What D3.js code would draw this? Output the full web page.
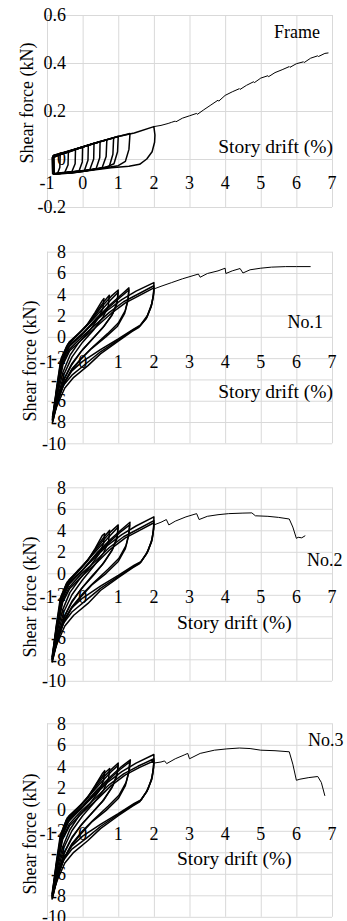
<!DOCTYPE html>
<html>
<head>
<meta charset="utf-8">
<script src="https://cdn.jsdelivr.net/npm/d3@7"></script>
<style>
  body { margin: 0; background: #fff; }
  text { font-family: "Liberation Serif", "Times New Roman", serif; font-size: 18px; fill: #000; }
  text.xtitle { font-size: 19.5px; }
  .grid line { stroke: #d9d9d9; stroke-width: 1; }
  .grid path { display: none; }
</style>
</head>
<body>
<svg id="chart" width="347" height="921"></svg>
<script>
// tick values
var xTicks = [-1, 0, 1, 2, 3, 4, 5, 6, 7];
var frameYTicks = [-0.2, 0, 0.2, 0.4, 0.6];
var specYTicks = [-10, -8, -6, -4, -2, 0, 2, 4, 6, 8];
var panelNames = ["Frame", "No.1", "No.2", "No.3"];
var xTitle = "Story drift (%)";
var yTitle = "Shear force (kN)";

// Frame: drift (%), shear (kN)
var frameLoops = [
  [[-0.84,-0.062],[-0.85,0.004],[-0.63,0.018],[-0.64,-0.035],[-0.7,-0.058],[-0.84,-0.062]],
  [[-0.84,-0.062],[-0.85,0.006],[-0.6,0.02],[-0.4,0.03],[-0.41,-0.025],[-0.5,-0.055],[-0.84,-0.062]],
  [[-0.83,-0.063],[-0.84,0.008],[-0.5,0.025],[-0.2,0.04],[-0.21,-0.02],[-0.3,-0.052],[-0.83,-0.063]],
  [[-0.83,-0.062],[-0.84,0.01],[-0.45,0.028],[0.0,0.05],[-0.01,-0.012],[-0.1,-0.05],[-0.83,-0.062]],
  [[-0.82,-0.064],[-0.83,0.01],[-0.4,0.03],[0.0,0.05],[0.16,0.057],[0.15,-0.005],[0.05,-0.048],[-0.82,-0.064]],
  [[-0.82,-0.063],[-0.83,0.012],[-0.4,0.031],[0.05,0.052],[0.32,0.066],[0.31,0.0],[0.2,-0.045],[-0.3,-0.058],[-0.82,-0.063]],
  [[-0.82,-0.062],[-0.83,0.012],[-0.35,0.034],[0.1,0.055],[0.49,0.073],[0.48,0.005],[0.38,-0.04],[0.0,-0.052],[-0.82,-0.062]],
  [[-0.81,-0.063],[-0.82,0.013],[-0.3,0.036],[0.2,0.06],[0.68,0.08],[0.66,0.01],[0.55,-0.035],[0.1,-0.05],[-0.81,-0.063]],
  [[-0.81,-0.062],[-0.82,0.014],[-0.3,0.037],[0.3,0.064],[0.87,0.088],[0.85,0.02],[0.75,-0.03],[0.3,-0.045],[-0.81,-0.062]],
  [[-0.8,-0.063],[-0.82,0.015],[-0.2,0.04],[0.4,0.068],[1.0,0.095],[0.98,0.03],[0.88,-0.02],[0.6,-0.038],[0.0,-0.05],[-0.8,-0.063]],
  [[-0.8,-0.062],[-0.81,0.016],[-0.2,0.042],[0.5,0.073],[1.0,0.094],[1.33,0.106],[1.3,0.04],[1.2,-0.01],[1.0,-0.028],[0.5,-0.04],[-0.8,-0.062]],
  [[-0.82,-0.063],[-0.82,0.01],[-0.4,0.028],[0.0,0.05],[0.5,0.073],[1.0,0.094],[1.45,0.108],[2.0,0.135],[2.03,0.1],[2.02,0.07],[1.95,0.03],[1.8,0.0],[1.6,-0.022],[1.3,-0.03],[0.8,-0.036],[0.2,-0.048],[-0.3,-0.058],[-0.82,-0.063]]
];
var frameEnvelope = [[2.0,0.135],[2.2,0.14],[2.4,0.148],[2.5,0.153],[2.6,0.158],[2.62,0.155],[2.8,0.17],[3.0,0.18],[3.2,0.19],[3.22,0.186],[3.4,0.205],[3.6,0.225],[3.8,0.245],[3.82,0.241],[4.0,0.265],[4.2,0.28],[4.4,0.293],[4.42,0.29],[4.6,0.307],[4.8,0.322],[4.82,0.318],[5.0,0.337],[5.2,0.347],[5.22,0.343],[5.4,0.36],[5.6,0.372],[5.8,0.385],[5.82,0.382],[6.0,0.397],[6.2,0.405],[6.22,0.402],[6.4,0.42],[6.6,0.43],[6.62,0.427],[6.8,0.44],[6.9,0.442]];

// No.1
var no1Loops = [
  [[-0.85,-7.9],[-0.74,-5.0],[-0.62,-2.3],[-0.45,-0.9],[-0.2,0.0],[0.1,1.0],[0.35,2.3],[0.55,3.4],[0.6,3.6],[0.57,2.7],[0.45,1.8],[0.2,0.6],[-0.1,-0.5],[-0.35,-1.7],[-0.55,-3.3],[-0.7,-5.3],[-0.85,-7.9]],
  [[-0.84,-7.7],[-0.72,-4.7],[-0.6,-2.0],[-0.42,-0.7],[-0.15,0.2],[0.15,1.2],[0.42,2.5],[0.62,3.4],[0.75,3.9],[0.72,2.9],[0.58,1.9],[0.32,0.7],[0.0,-0.5],[-0.3,-1.9],[-0.52,-3.5],[-0.68,-5.4],[-0.84,-7.7]],
  [[-0.83,-7.8],[-0.7,-4.5],[-0.56,-1.9],[-0.38,-0.5],[-0.05,0.5],[0.3,1.8],[0.55,2.9],[0.8,3.8],[1.0,4.4],[0.97,3.3],[0.85,2.2],[0.6,1.0],[0.3,-0.1],[0.0,-1.2],[-0.3,-2.5],[-0.5,-3.8],[-0.68,-5.6],[-0.83,-7.8]],
  [[-0.85,-7.6],[-0.71,-4.6],[-0.57,-2.1],[-0.4,-0.7],[-0.1,0.3],[0.25,1.5],[0.55,2.6],[0.8,3.5],[1.0,4.2],[0.96,3.1],[0.82,2.0],[0.55,0.8],[0.25,-0.3],[-0.05,-1.4],[-0.32,-2.7],[-0.52,-4.0],[-0.7,-5.8],[-0.85,-7.6]],
  [[-0.84,-8.0],[-0.7,-4.6],[-0.55,-2.1],[-0.35,-0.7],[0.0,0.3],[0.4,1.8],[0.8,3.1],[1.1,4.0],[1.3,4.6],[1.28,3.6],[1.2,2.5],[1.0,1.3],[0.7,0.3],[0.3,-0.9],[0.0,-1.9],[-0.3,-3.0],[-0.5,-4.2],[-0.68,-5.8],[-0.84,-8.0]],
  [[-0.85,-7.8],[-0.71,-4.8],[-0.57,-2.3],[-0.38,-0.9],[-0.05,0.1],[0.35,1.5],[0.75,2.8],[1.05,3.7],[1.3,4.4],[1.27,3.4],[1.18,2.2],[0.98,1.0],[0.65,0.0],[0.25,-1.1],[-0.05,-2.1],[-0.32,-3.2],[-0.52,-4.4],[-0.7,-6.0],[-0.85,-7.8]],
  [[-0.85,-8.1],[-0.72,-5.0],[-0.58,-2.4],[-0.4,-1.0],[-0.1,0.0],[0.3,1.3],[0.7,2.5],[1.1,3.5],[1.5,4.3],[2.0,5.1],[2.0,4.3],[1.95,3.2],[1.82,2.0],[1.62,1.1],[1.42,0.7],[1.0,-0.2],[0.5,-1.2],[0.0,-2.3],[-0.3,-3.2],[-0.5,-4.2],[-0.7,-5.8],[-0.85,-8.1]],
  [[-0.84,-7.8],[-0.7,-4.9],[-0.56,-2.5],[-0.38,-1.2],[-0.05,-0.1],[0.35,1.1],[0.75,2.3],[1.15,3.3],[1.55,4.0],[2.0,4.8],[1.99,4.0],[1.93,2.9],[1.8,1.8],[1.6,1.0],[1.4,0.6],[1.0,-0.3],[0.5,-1.4],[0.1,-2.5],[-0.3,-3.6],[-0.55,-4.6],[-0.72,-6.2],[-0.84,-7.8]],
  [[-0.83,-7.5],[-0.69,-4.8],[-0.55,-2.6],[-0.36,-1.3],[0.0,-0.2],[0.4,1.0],[0.8,2.2],[1.2,3.2],[1.6,3.9],[2.0,4.6],[1.99,3.9],[1.92,2.8],[1.78,1.7],[1.58,0.9],[1.38,0.5],[1.0,-0.4],[0.5,-1.6],[0.15,-2.7],[-0.25,-3.8],[-0.5,-4.8],[-0.7,-6.3],[-0.83,-7.5]]
];
var no1Envelope = [[2.0,4.5],[2.2,4.75],[2.5,5.1],[2.8,5.45],[3.1,5.75],[3.25,5.9],[3.3,5.6],[3.5,5.95],[3.8,6.2],[4.0,6.45],[4.02,5.95],[4.2,6.2],[4.42,6.42],[4.5,6.0],[4.7,6.3],[5.0,6.45],[5.3,6.55],[5.7,6.6],[6.0,6.6],[6.4,6.6]];

// No.2
var no2Loops = [
  [[-0.86,-8.1],[-0.75,-5.1],[-0.63,-2.4],[-0.46,-1.0],[-0.2,-0.1],[0.1,1.0],[0.35,2.3],[0.55,3.5],[0.62,3.7],[0.59,2.8],[0.46,1.8],[0.2,0.6],[-0.1,-0.6],[-0.36,-1.8],[-0.56,-3.4],[-0.71,-5.4],[-0.86,-8.1]],
  [[-0.85,-7.9],[-0.73,-4.8],[-0.6,-2.1],[-0.43,-0.8],[-0.15,0.2],[0.15,1.2],[0.42,2.6],[0.63,3.5],[0.76,4.0],[0.73,3.0],[0.59,1.9],[0.32,0.7],[0.0,-0.6],[-0.3,-2.0],[-0.53,-3.6],[-0.69,-5.5],[-0.85,-7.9]],
  [[-0.84,-8.0],[-0.71,-4.6],[-0.57,-2.0],[-0.38,-0.6],[-0.05,0.5],[0.3,1.9],[0.56,3.0],[0.8,3.9],[1.0,4.5],[0.97,3.4],[0.85,2.3],[0.6,1.0],[0.3,-0.2],[0.0,-1.3],[-0.3,-2.6],[-0.5,-3.9],[-0.68,-5.7],[-0.84,-8.0]],
  [[-0.86,-7.8],[-0.72,-4.7],[-0.58,-2.2],[-0.4,-0.8],[-0.1,0.3],[0.25,1.6],[0.55,2.7],[0.8,3.6],[1.0,4.3],[0.96,3.2],[0.82,2.1],[0.55,0.8],[0.25,-0.3],[-0.05,-1.5],[-0.32,-2.8],[-0.52,-4.1],[-0.7,-5.9],[-0.86,-7.8]],
  [[-0.85,-8.2],[-0.71,-4.7],[-0.56,-2.2],[-0.36,-0.8],[0.0,0.3],[0.4,1.9],[0.8,3.2],[1.1,4.1],[1.33,4.75],[1.3,3.7],[1.22,2.6],[1.02,1.4],[0.72,0.4],[0.3,-0.9],[0.0,-1.9],[-0.3,-3.1],[-0.5,-4.3],[-0.68,-5.9],[-0.85,-8.2]],
  [[-0.86,-8.0],[-0.72,-4.9],[-0.58,-2.4],[-0.38,-1.0],[-0.05,0.1],[0.35,1.6],[0.75,2.9],[1.05,3.8],[1.32,4.5],[1.29,3.5],[1.2,2.3],[1.0,1.1],[0.66,0.0],[0.25,-1.1],[-0.05,-2.2],[-0.32,-3.3],[-0.52,-4.5],[-0.7,-6.1],[-0.86,-8.0]],
  [[-0.86,-8.3],[-0.73,-5.1],[-0.59,-2.5],[-0.41,-1.1],[-0.1,0.0],[0.3,1.3],[0.7,2.6],[1.1,3.6],[1.5,4.4],[2.0,5.25],[2.0,4.4],[1.96,3.3],[1.84,2.1],[1.65,1.1],[1.45,0.75],[1.0,-0.2],[0.5,-1.2],[0.0,-2.3],[-0.3,-3.2],[-0.5,-4.2],[-0.7,-5.9],[-0.86,-8.3]],
  [[-0.85,-8.0],[-0.71,-5.0],[-0.57,-2.6],[-0.38,-1.3],[-0.05,-0.1],[0.35,1.1],[0.75,2.4],[1.15,3.4],[1.55,4.1],[2.0,4.9],[1.99,4.1],[1.94,3.0],[1.81,1.9],[1.62,1.0],[1.42,0.6],[1.0,-0.3],[0.5,-1.4],[0.1,-2.5],[-0.3,-3.6],[-0.55,-4.7],[-0.72,-6.3],[-0.85,-8.0]],
  [[-0.84,-7.7],[-0.7,-4.9],[-0.56,-2.7],[-0.36,-1.4],[0.0,-0.2],[0.4,1.0],[0.8,2.3],[1.2,3.3],[1.6,4.0],[2.0,4.7],[1.99,4.0],[1.93,2.9],[1.79,1.8],[1.6,0.9],[1.4,0.5],[1.0,-0.4],[0.5,-1.6],[0.15,-2.8],[-0.25,-3.9],[-0.5,-4.9],[-0.7,-6.4],[-0.84,-7.7]]
];
var no2Envelope = [[2.0,4.5],[2.2,4.75],[2.35,5.0],[2.42,4.5],[2.6,4.85],[2.9,5.25],[3.2,5.55],[3.27,5.0],[3.5,5.3],[3.8,5.45],[4.1,5.55],[4.5,5.6],[4.75,5.62],[4.85,5.35],[5.2,5.3],[5.5,5.2],[5.8,5.05],[5.9,4.3],[6.0,3.25],[6.05,3.35],[6.15,3.3],[6.25,3.5]];

// No.3
var no3Loops = [
  [[-0.86,-8.2],[-0.75,-5.2],[-0.63,-2.5],[-0.46,-1.0],[-0.2,-0.1],[0.1,0.9],[0.35,2.2],[0.55,3.3],[0.62,3.6],[0.59,2.7],[0.46,1.7],[0.2,0.5],[-0.1,-0.6],[-0.36,-1.9],[-0.56,-3.5],[-0.71,-5.5],[-0.86,-8.2]],
  [[-0.85,-8.0],[-0.73,-4.9],[-0.6,-2.2],[-0.43,-0.8],[-0.15,0.1],[0.15,1.1],[0.42,2.5],[0.63,3.4],[0.76,3.8],[0.73,2.9],[0.59,1.8],[0.32,0.6],[0.0,-0.6],[-0.3,-2.0],[-0.53,-3.6],[-0.69,-5.6],[-0.85,-8.0]],
  [[-0.84,-8.1],[-0.71,-4.7],[-0.57,-2.1],[-0.38,-0.6],[-0.05,0.4],[0.3,1.8],[0.56,2.9],[0.8,3.7],[1.0,4.3],[0.97,3.3],[0.85,2.2],[0.6,0.9],[0.3,-0.2],[0.0,-1.3],[-0.3,-2.6],[-0.5,-3.9],[-0.68,-5.8],[-0.84,-8.1]],
  [[-0.86,-7.9],[-0.72,-4.8],[-0.58,-2.3],[-0.4,-0.8],[-0.1,0.2],[0.25,1.5],[0.55,2.6],[0.8,3.5],[1.0,4.1],[0.96,3.1],[0.82,2.0],[0.55,0.7],[0.25,-0.4],[-0.05,-1.5],[-0.32,-2.8],[-0.52,-4.1],[-0.7,-6.0],[-0.86,-7.9]],
  [[-0.85,-8.3],[-0.71,-4.8],[-0.56,-2.3],[-0.36,-0.8],[0.0,0.3],[0.4,1.8],[0.8,3.1],[1.1,4.0],[1.34,4.6],[1.31,3.6],[1.22,2.5],[1.02,1.3],[0.72,0.3],[0.3,-1.0],[0.0,-2.0],[-0.3,-3.2],[-0.5,-4.4],[-0.68,-6.0],[-0.85,-8.3]],
  [[-0.86,-8.1],[-0.72,-5.0],[-0.58,-2.5],[-0.38,-1.0],[-0.05,0.0],[0.35,1.5],[0.75,2.8],[1.05,3.7],[1.32,4.4],[1.29,3.4],[1.2,2.2],[1.0,1.0],[0.66,-0.1],[0.25,-1.2],[-0.05,-2.3],[-0.32,-3.4],[-0.52,-4.6],[-0.7,-6.2],[-0.86,-8.1]],
  [[-0.86,-8.4],[-0.73,-5.2],[-0.59,-2.6],[-0.41,-1.2],[-0.1,-0.1],[0.3,1.2],[0.7,2.5],[1.1,3.5],[1.5,4.3],[2.0,5.1],[2.0,4.3],[1.96,3.1],[1.84,1.9],[1.65,0.9],[1.45,0.55],[1.0,-0.4],[0.5,-1.4],[0.0,-2.5],[-0.3,-3.4],[-0.5,-4.4],[-0.7,-6.1],[-0.86,-8.4]],
  [[-0.85,-8.1],[-0.71,-5.1],[-0.57,-2.7],[-0.38,-1.4],[-0.05,-0.2],[0.35,1.0],[0.75,2.3],[1.15,3.3],[1.55,4.0],[2.0,4.7],[1.99,3.9],[1.94,2.8],[1.81,1.7],[1.62,0.8],[1.42,0.4],[1.0,-0.5],[0.5,-1.6],[0.1,-2.7],[-0.3,-3.7],[-0.55,-4.8],[-0.72,-6.4],[-0.85,-8.1]],
  [[-0.84,-7.8],[-0.7,-5.0],[-0.56,-2.8],[-0.36,-1.5],[0.0,-0.3],[0.4,0.9],[0.8,2.2],[1.2,3.2],[1.6,3.9],[2.0,4.5],[1.99,3.8],[1.93,2.7],[1.79,1.6],[1.6,0.7],[1.4,0.3],[1.0,-0.6],[0.5,-1.8],[0.15,-2.9],[-0.25,-4.0],[-0.5,-5.0],[-0.7,-6.5],[-0.84,-7.8]]
];
var no3Envelope = [[2.0,4.3],[2.2,4.4],[2.3,4.5],[2.36,4.25],[2.6,4.7],[2.85,5.05],[2.95,5.2],[3.0,4.7],[3.3,5.2],[3.7,5.5],[4.05,5.62],[4.4,5.7],[4.7,5.65],[5.0,5.5],[5.4,5.45],[5.8,5.35],[5.9,4.2],[6.0,2.7],[6.1,2.8],[6.35,2.95],[6.6,3.05],[6.7,2.5],[6.8,1.25]];

// pixel layout of the four stacked panels
var layout = [
  {top: 15, bottom: 207, labelGap: 23.5, yTitleX: 27, yTitleY: 103, xTitleX: 333, xTitleY: 146, xTitleAnchor: "end", nameX: 320, nameY: 32, nameAnchor: "end"},
  {top: 251.7, bottom: 443.3, labelGap: 24.5, yTitleX: 30, yTitleY: 361, xTitleX: 333, xTitleY: 391, xTitleAnchor: "end", nameX: 323, nameY: 322, nameAnchor: "end"},
  {top: 487.3, bottom: 680.8, labelGap: 23.5, yTitleX: 30, yTitleY: 597, xTitleX: 177, xTitleY: 622, xTitleAnchor: "start", nameX: 307, nameY: 560, nameAnchor: "start"},
  {top: 723.3, bottom: 916.8, labelGap: 24, yTitleX: 30, yTitleY: 834, xTitleX: 177, xTitleY: 858, xTitleAnchor: "start", nameX: 308, nameY: 740, nameAnchor: "start"}
];

var svg = d3.select("#chart");
var x = d3.scaleLinear().domain([-1, 7]).range([47, 332]);
var plotW = x(7) - x(-1);

var line = d3.line()
  .x(function (d) { return x(d[0]); });

function drawPanel(i, yTicks, loops, envelope) {
  var L = layout[i];
  var y = d3.scaleLinear()
    .domain([yTicks[0], yTicks[yTicks.length - 1]])
    .range([L.bottom, L.top]);
  var g = svg.append("g");

  // gridlines
  g.append("g")
    .attr("class", "grid")
    .attr("transform", "translate(" + x(-1) + ",0)")
    .call(d3.axisLeft(y).tickValues(yTicks).tickSize(-plotW).tickFormat(""));
  g.append("g")
    .attr("class", "grid")
    .attr("transform", "translate(0," + L.top + ")")
    .call(d3.axisBottom(x).tickValues(xTicks).tickSize(L.bottom - L.top).tickFormat(""));

  // y tick labels (sit over the plot, right edge at x=66)
  g.selectAll(".ylab")
    .data(yTicks)
    .enter().append("text")
    .attr("x", 66)
    .attr("y", function (d) { return y(d); })
    .attr("dy", "0.35em")
    .attr("text-anchor", "end")
    .text(function (d) { return d3.format("")(d).replace("\u2212", "-"); });

  // x tick labels below zero line
  g.selectAll(".xlab")
    .data(xTicks)
    .enter().append("text")
    .attr("x", function (d) { return x(d); })
    .attr("y", y(0) + L.labelGap)
    .attr("dy", "0.35em")
    .attr("text-anchor", "middle")
    .text(function (d) { return String(d); });

  g.append("text")
    .attr("transform", "translate(" + L.yTitleX + "," + L.yTitleY + ") rotate(-90)")
    .attr("dy", "0.35em")
    .attr("text-anchor", "middle")
    .text(yTitle);
  g.append("text")
    .attr("class", "xtitle")
    .attr("x", L.xTitleX)
    .attr("y", L.xTitleY)
    .attr("dy", "0.35em")
    .attr("text-anchor", L.xTitleAnchor)
    .text(xTitle);
  g.append("text")
    .attr("x", L.nameX)
    .attr("y", L.nameY)
    .attr("dy", "0.35em")
    .attr("text-anchor", L.nameAnchor)
    .text(panelNames[i]);

  line.y(function (d) { return y(d[1]); });

  g.selectAll(".loop")
    .data(loops)
    .enter().append("path")
    .attr("d", line)
    .attr("fill", "none")
    .attr("stroke", "#000")
    .attr("stroke-width", 1.5)
    .attr("stroke-linejoin", "round");

  g.append("path")
    .datum(envelope)
    .attr("d", line)
    .attr("fill", "none")
    .attr("stroke", "#000")
    .attr("stroke-width", 1);
}

drawPanel(0, frameYTicks, frameLoops, frameEnvelope);
drawPanel(1, specYTicks, no1Loops, no1Envelope);
drawPanel(2, specYTicks, no2Loops, no2Envelope);
drawPanel(3, specYTicks, no3Loops, no3Envelope);
</script>
</body>
</html>
